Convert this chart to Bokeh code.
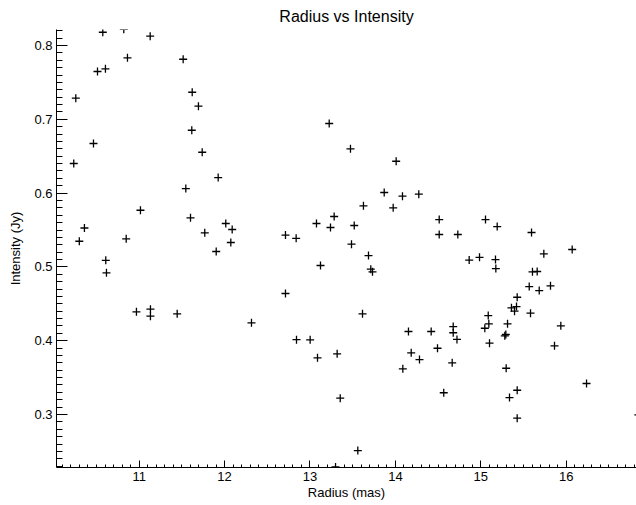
from bokeh.plotting import figure
from bokeh.models import SingleIntervalTicker, Range1d
from bokeh.embed import file_html
from bokeh.resources import INLINE

radius = [10.574, 10.820, 11.129, 10.863, 11.515, 10.512, 10.605, 11.621, 10.258, 11.694,
          11.616, 10.465, 11.738, 10.234, 11.925, 11.546, 10.359, 10.299, 10.609, 10.617,
          11.015, 11.601, 10.848, 11.768, 12.014, 12.089, 12.073, 11.902, 12.713, 12.838,
          12.713, 10.968, 11.132, 11.132, 11.445, 12.315, 12.842, 13.225, 13.474, 14.009,
          13.869, 14.083, 14.274, 13.626, 13.974, 13.283, 13.076, 13.240, 13.518, 13.486,
          14.513, 14.513, 14.731, 13.685, 13.123, 13.712, 13.732, 14.864, 14.985, 13.615,
          14.153, 14.419, 14.677, 14.677, 14.721, 13.002, 14.493, 13.088, 13.318, 14.185,
          14.282, 14.087, 14.665, 13.354, 14.566, 13.560, 13.299, 15.055, 15.192, 15.594,
          15.738, 16.070, 15.172, 15.176, 15.605, 15.660, 15.567, 15.684, 15.816, 15.426,
          15.359, 15.418, 15.395, 15.582, 15.087, 15.094, 15.047, 15.313, 15.293, 15.281,
          15.937, 15.102, 15.863, 15.297, 15.426, 15.336, 16.238, 15.426, 16.845]

intensity = [0.818, 0.822, 0.8126, 0.7833, 0.7814, 0.7648, 0.7684, 0.7367, 0.7286, 0.7178,
             0.6852, 0.6672, 0.6554, 0.6401, 0.6211, 0.6062, 0.5527, 0.5348, 0.5089, 0.4920,
             0.5768, 0.5665, 0.5381, 0.5462, 0.5588, 0.5507, 0.5331, 0.5209, 0.5432, 0.5388,
             0.4640, 0.4392, 0.4427, 0.4332, 0.4364, 0.4243, 0.4014, 0.6943, 0.6600, 0.6432,
             0.6008, 0.5958, 0.5985, 0.5828, 0.5801, 0.5683, 0.5588, 0.5534, 0.5561, 0.5308,
             0.5642, 0.5439, 0.5439, 0.5154, 0.5019, 0.4969, 0.4934, 0.5093, 0.5130, 0.4364,
             0.4125, 0.4125, 0.4192, 0.4108, 0.4018, 0.4012, 0.3898, 0.3768, 0.3822, 0.3836,
             0.3745, 0.3619, 0.3700, 0.3221, 0.3295, 0.2512, 0.229, 0.5642, 0.5547, 0.5466,
             0.5178, 0.5236, 0.5100, 0.4978, 0.4934, 0.4938, 0.4734, 0.4680, 0.4744, 0.4589,
             0.4446, 0.4463, 0.4400, 0.4373, 0.4341, 0.4229, 0.4169, 0.4229, 0.4084, 0.4066,
             0.4202, 0.3966, 0.3931, 0.3627, 0.3329, 0.3230, 0.3420, 0.2950, 0.2996]

title_text = "Radius vs Intensity"
x_label = "Radius (mas)"
y_label = "Intensity (Jy)"

FONT = "Liberation Sans"

p = figure(width=636, height=505, output_backend="svg", toolbar_location=None,
           x_range=Range1d(10.032, 16.823), y_range=Range1d(0.2282, 0.8217),
           title=title_text, min_border_left=56, min_border_right=0,
           min_border_top=29, min_border_bottom=38)

p.title.align = "center"
p.title.text_font = FONT
p.title.text_font_size = "16px"
p.title.text_font_style = "normal"
p.title.text_color = "black"

p.outline_line_color = None
p.xgrid.grid_line_color = None
p.ygrid.grid_line_color = None
p.background_fill_color = "white"
p.border_fill_color = "white"

p.xaxis.ticker = SingleIntervalTicker(interval=1, num_minor_ticks=10)
p.yaxis.ticker = SingleIntervalTicker(interval=0.1, num_minor_ticks=10)

for ax in (p.xaxis[0], p.yaxis[0]):
    ax.axis_line_color = "black"
    ax.axis_line_width = 1
    ax.major_tick_line_color = "black"
    ax.minor_tick_line_color = "black"
    ax.major_tick_out = 0
    ax.minor_tick_out = 0
    ax.major_label_text_font = FONT
    ax.major_label_text_font_size = "13px"
    ax.major_label_text_color = "black"
    ax.axis_label_text_font = FONT
    ax.axis_label_text_font_size = "13px"
    ax.axis_label_text_font_style = "normal"
    ax.axis_label_text_color = "black"

p.xaxis.major_tick_in = 7
p.xaxis.minor_tick_in = 3
p.yaxis.major_tick_in = 11
p.yaxis.minor_tick_in = 6
p.xaxis.axis_label = x_label
p.yaxis.axis_label = y_label
p.xaxis.major_label_standoff = 4
p.xaxis.axis_label_standoff = 1
p.yaxis.major_label_standoff = 4
p.yaxis.axis_label_standoff = 8

p.scatter(radius, intensity, marker="cross", size=8, line_color="black", line_width=1.3)

open("out.html", "w").write(file_html(p, INLINE))
